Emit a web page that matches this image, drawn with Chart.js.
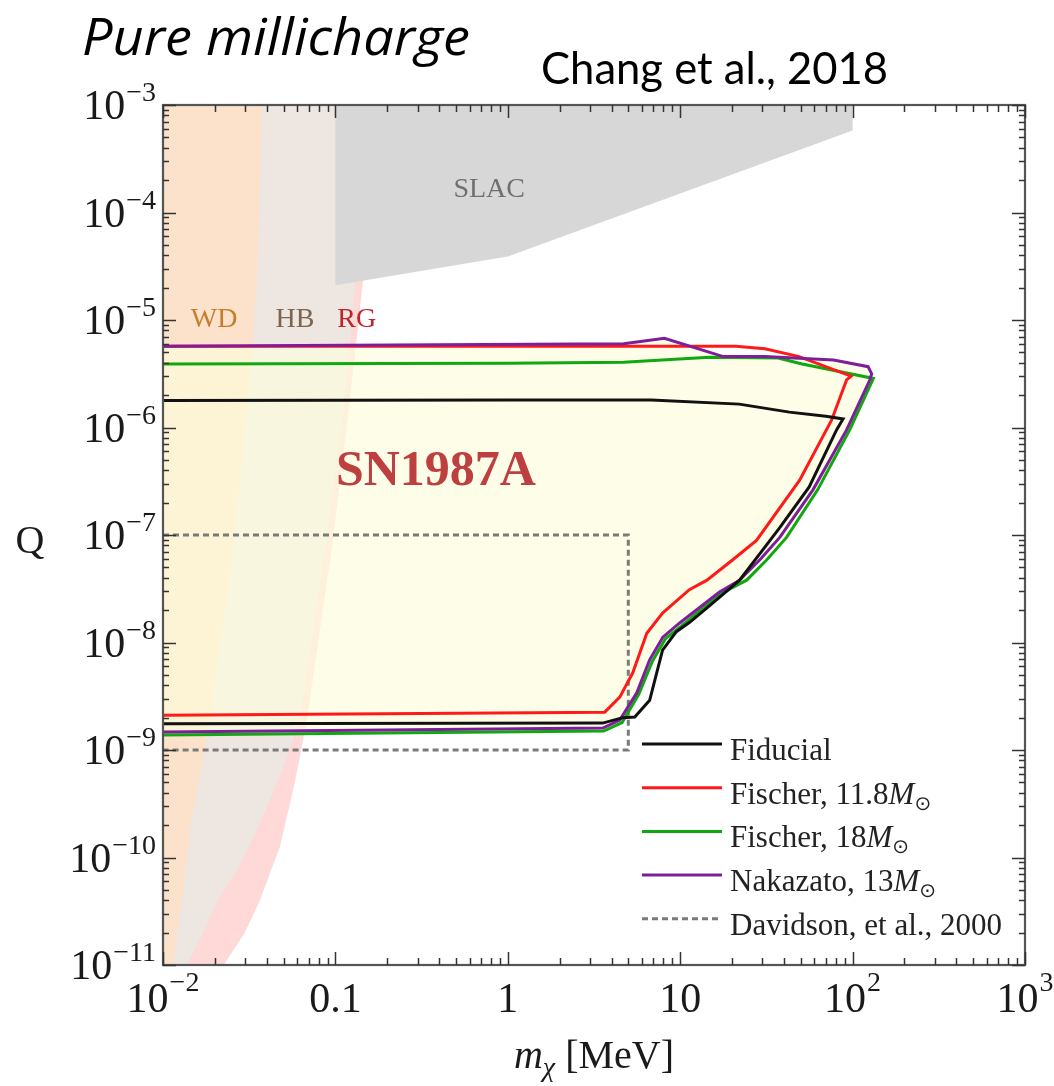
<!DOCTYPE html>
<html>
<head>
<meta charset="utf-8">
<script src="https://cdn.jsdelivr.net/npm/chart.js@4.4.1/dist/chart.umd.min.js"></script>
<style>
html,body{margin:0;padding:0;background:#ffffff;}
#wrap{position:relative;width:1054px;height:1086px;}
</style>
</head>
<body>
<div id="wrap"><canvas id="c" width="1054" height="1086"></canvas></div>
<script>
// ---------- axis ranges and tick labels ----------
const xRange = [0.01, 1000];
const yRange = [1e-11, 1e-3];
const xTickValues = [0.01, 0.1, 1, 10, 100, 1000];
const xTickBase = ['10', '0.1', '1', '10', '10', '10'];
const xTickExp = ['\u22122', '', '', '', '2', '3'];
const yTickValues = [1e-3, 1e-4, 1e-5, 1e-6, 1e-7, 1e-8, 1e-9, 1e-10, 1e-11];
const yTickBase = ['10', '10', '10', '10', '10', '10', '10', '10', '10'];
const yTickExp = ['\u22123', '\u22124', '\u22125', '\u22126', '\u22127', '\u22128', '\u22129', '\u221210', '\u221211'];

// ---------- excluded regions (m_chi [MeV], Q) ----------
const slacRegion = [[0.1, 1e-3], [100, 1e-3], [100, 5.8e-4], [1, 3.9e-5], [0.1, 2.1e-5]];
const wdBoundary = [[0.0375, 1e-3], [0.0351, 1.9e-5], [0.0311, 1.8e-6], [0.0255, 6.3e-8], [0.0187, 1.9e-9], [0.01436, 1.8e-10], [0.01288, 4.0e-11], [0.01143, 1e-11]];
const hbBoundary = [[0.16, 1e-3], [0.1297, 1.9e-5], [0.1135, 1.8e-6], [0.087, 7.2e-8], [0.0622, 1.9e-9], [0.049, 6.3e-10], [0.0351, 1.8e-10], [0.0272, 7.9e-11], [0.0208, 4.0e-11], [0.0171, 2.0e-11], [0.0138, 1e-11]];
const rgBoundary = [[0.19, 1e-3], [0.1426, 1.9e-5], [0.1213, 1.8e-6], [0.095, 7.2e-8], [0.0684, 1.9e-9], [0.0582, 5.0e-10], [0.0476, 1.25e-10], [0.0365, 4.0e-11], [0.0298, 2.0e-11], [0.0225, 1e-11]];

// ---------- SN1987A contours ----------
const fiducial = [[0.01, 1.78e-6], [1, 1.80e-6], [6.8, 1.80e-6], [22, 1.65e-6], [43, 1.39e-6], [70, 1.27e-6], [88, 1.2e-6], [80.7, 9.5e-7], [56, 2.8e-7], [37.8, 1.17e-7], [22.1, 3.8e-8], [16.5, 2.55e-8], [11.4, 1.55e-8], [9.5, 1.26e-8], [7.9, 8.5e-9], [6.65, 2.9e-9], [5.45, 2.03e-9], [4.64, 2.0e-9], [3.55, 1.78e-9], [0.01, 1.75e-9]];
const fischer118 = [[0.01, 5.7e-6], [21, 5.7e-6], [31, 5.4e-6], [49, 4.56e-6], [98, 3.0e-6], [92.3, 2.77e-6], [75.5, 1.17e-6], [49.3, 3.24e-7], [27.7, 8.9e-8], [20.1, 5.85e-8], [14.3, 3.8e-8], [11.3, 3.1e-8], [7.9, 1.88e-8], [6.4, 1.22e-8], [5.3, 5.2e-9], [4.46, 3.1e-9], [3.65, 2.25e-9], [0.01, 2.1e-9]];
const fischer18 = [[0.01, 3.9e-6], [1, 3.95e-6], [4.7, 4.04e-6], [14.8, 4.5e-6], [37, 4.43e-6], [51, 3.9e-6], [132, 2.86e-6], [130.6, 2.75e-6], [96.2, 9.5e-7], [62.7, 2.63e-7], [41.4, 9.5e-8], [31.7, 5.85e-8], [24.3, 3.8e-8], [17.5, 2.9e-8], [10.3, 1.45e-8], [8.2, 1.08e-8], [6.9, 6.7e-9], [5.75, 3.3e-9], [4.6, 1.8e-9], [3.6, 1.5e-9], [0.01, 1.38e-9]];
const nakazato13 = [[0.01, 5.7e-6], [4.7, 6.0e-6], [8.1, 6.76e-6], [17.8, 4.57e-6], [30.9, 4.57e-6], [77.6, 4.25e-6], [123, 3.68e-6], [129, 3.16e-6], [125.6, 2.75e-6], [92.3, 9.5e-7], [58.9, 2.63e-7], [37.8, 9.5e-8], [28.9, 5.85e-8], [22.1, 3.8e-8], [16.9, 2.95e-8], [9.93, 1.52e-8], [7.93, 1.12e-8], [6.65, 6.9e-9], [5.6, 3.4e-9], [4.46, 1.9e-9], [3.56, 1.6e-9], [0.01, 1.47e-9]];
const davidson2000 = [[0.01, 1e-7], [5, 1e-7], [5, 1e-9], [0.01, 1e-9]];

// legend labels: [plain, italic, subscript]
const legendLabels = [['Fiducial', '', ''], ['Fischer, 11.8', 'M', '\u2299'], ['Fischer, 18', 'M', '\u2299'], ['Nakazato, 13', 'M', '\u2299'], ['Davidson, et al., 2000', '', '']];

// ---------- build datasets ----------
const pts = a => a.map(p => ({x: p[0], y: p[1]}));
const bandPoly = b => pts([[xRange[0], yRange[1]]].concat(b, [[xRange[0], yRange[0]]]));
const snEnvelope = nakazato13.slice(0, 8).concat(fischer18.slice(6));

const fillSet = (label, data, color, order) => ({label, data, showLine: true, fill: 'shape', backgroundColor: color,
  borderColor: 'rgba(0,0,0,0)', borderWidth: 1, pointRadius: 0, order, tension: 0});
const lineSet = (label, data, color, order, dash) => ({label, data: pts(data), showLine: true, fill: false,
  borderColor: color, borderWidth: 3, borderDash: dash || [], pointRadius: 0, order, tension: 0});

const C_BLACK = '#111111', C_RED = '#ff1a1a', C_GREEN = '#10a810', C_PURPLE = '#7d1f9a', C_DASH = '#7a7a7a';

const datasets = [
  fillSet('RG', bandPoly(rgBoundary), '#ffd8d8', 20),
  fillSet('HB', bandPoly(hbBoundary), '#eee6e1', 19),
  fillSet('WD', bandPoly(wdBoundary), '#fde2cb', 18),
  fillSet('SLAC', pts(slacRegion), '#d7d7d7', 17),
  fillSet('SN1987A', pts(snEnvelope), 'rgba(253,253,220,0.66)', 16),
  lineSet('Davidson, et al., 2000', davidson2000, C_DASH, 6, [6, 4]),
  lineSet('Fischer, 18M', fischer18, C_GREEN, 5),
  lineSet('Fischer, 11.8M', fischer118, C_RED, 4),
  lineSet('Nakazato, 13M', nakazato13, C_PURPLE, 3),
  lineSet('Fiducial', fiducial, C_BLACK, 2)
];
const legendColors = [C_BLACK, C_RED, C_GREEN, C_PURPLE, C_DASH];

const SERIF = '"Liberation Serif", "Times New Roman", serif';

function drawPow(ctx, base, exp, x, yMid, align, expRise) {
  ctx.font = '42px ' + SERIF;
  const wb = ctx.measureText(base).width;
  ctx.font = '28px ' + SERIF;
  const we = exp ? ctx.measureText(exp).width + 1 : 0;
  const left = align === 'right' ? x - wb - we : x - (wb + we) / 2;
  ctx.textAlign = 'left';
  ctx.textBaseline = 'alphabetic';
  ctx.font = '42px ' + SERIF;
  ctx.fillText(base, left, yMid + 14);
  if (exp) {
    ctx.font = '28px ' + SERIF;
    ctx.fillText(exp, left + wb + 1, yMid - expRise);
  }
}

function fitText(ctx, text, x, baseline, font, width, color) {
  ctx.save();
  ctx.font = font;
  ctx.fillStyle = color;
  ctx.textAlign = 'left';
  ctx.textBaseline = 'alphabetic';
  const w = ctx.measureText(text).width;
  ctx.translate(x, baseline);
  ctx.scale(width / w, 1);
  ctx.fillText(text, 0, 0);
  ctx.restore();
}

const decor = {
  id: 'decor',
  afterDatasetsDraw(chart) {
    const {ctx, chartArea: a, scales} = chart;
    const sx = scales.x, sy = scales.y;
    ctx.save();
    // region labels
    ctx.textAlign = 'center';
    ctx.textBaseline = 'middle';
    ctx.font = '28px ' + SERIF;
    ctx.fillStyle = '#707070';
    ctx.fillText('SLAC', sx.getPixelForValue(0.78), sy.getPixelForValue(1.62e-4));
    ctx.fillStyle = '#c77d2d';
    ctx.fillText('WD', sx.getPixelForValue(0.0198), sy.getPixelForValue(1.0e-5));
    ctx.fillStyle = '#7c6550';
    ctx.fillText('HB', sx.getPixelForValue(0.0582), sy.getPixelForValue(1.0e-5));
    ctx.fillStyle = '#c0242c';
    ctx.fillText('RG', sx.getPixelForValue(0.133), sy.getPixelForValue(1.0e-5));
    ctx.font = 'bold 50px ' + SERIF;
    ctx.fillStyle = '#bd3f40';
    ctx.fillText('SN1987A', sx.getPixelForValue(0.383), sy.getPixelForValue(3.86e-7));

    // frame
    ctx.strokeStyle = '#555555';
    ctx.lineWidth = 2.2;
    ctx.strokeRect(a.left, a.top, a.right - a.left, a.bottom - a.top);
    // ticks
    ctx.strokeStyle = '#333333';
    ctx.lineWidth = 1.5;
    const seg = (x1, y1, x2, y2) => { ctx.beginPath(); ctx.moveTo(x1, y1); ctx.lineTo(x2, y2); ctx.stroke(); };
    for (let e = -2; e <= 3; e++) {
      for (let m = 1; m <= 9; m++) {
        const v = m * Math.pow(10, e);
        if (v > xRange[1] * 1.0001) break;
        const p = Math.round(sx.getPixelForValue(v)) + 0.5;
        const L = m === 1 ? 13 : 7;
        seg(p, a.bottom, p, a.bottom - L);
        seg(p, a.top, p, a.top + L);
      }
    }
    for (let e = -11; e <= -3; e++) {
      for (let m = 1; m <= 9; m++) {
        const v = m * Math.pow(10, e);
        if (v > yRange[1] * 1.0001) break;
        const p = Math.round(sy.getPixelForValue(v)) + 0.5;
        const L = m === 1 ? 13 : 6;
        seg(a.left, p, a.left + L, p);
        seg(a.right, p, a.right - L, p);
      }
    }
    // tick labels
    ctx.fillStyle = '#1a1a1a';
    yTickValues.forEach((v, i) => drawPow(ctx, yTickBase[i], yTickExp[i], a.left - 7, sy.getPixelForValue(v), 'right', 4));
    xTickValues.forEach((v, i) => drawPow(ctx, xTickBase[i], xTickExp[i], sx.getPixelForValue(v), 998, 'center', 7));

    // axis titles
    ctx.textAlign = 'center';
    ctx.textBaseline = 'alphabetic';
    ctx.font = '40px ' + SERIF;
    ctx.fillText('Q', 30, 553);
    ctx.textAlign = 'left';
    ctx.font = 'italic 40px ' + SERIF;
    const wm = ctx.measureText('m').width;
    ctx.font = 'italic 28px ' + SERIF;
    const wc = ctx.measureText('\u03c7').width;
    ctx.font = '40px ' + SERIF;
    const wr = ctx.measureText(' [MeV]').width;
    let tx = (a.left + a.right) / 2 - (wm + wc + wr) / 2;
    ctx.font = 'italic 40px ' + SERIF;
    ctx.fillText('m', tx, 1068);
    ctx.font = 'italic 28px ' + SERIF;
    ctx.fillText('\u03c7', tx + wm, 1076);
    ctx.font = '40px ' + SERIF;
    ctx.fillText(' [MeV]', tx + wm + wc, 1068);

    // legend
    const lx0 = a.right - 383, lx1 = a.right - 303, tx0 = a.right - 295;
    legendLabels.forEach((lab, i) => {
      const ly = a.bottom - 221 + i * 43.7;
      ctx.strokeStyle = legendColors[i];
      ctx.lineWidth = 3;
      ctx.setLineDash(i === 4 ? [6, 4] : []);
      seg(lx0, ly, lx1, ly);
      ctx.setLineDash([]);
      ctx.fillStyle = '#222222';
      ctx.textAlign = 'left';
      ctx.textBaseline = 'alphabetic';
      ctx.font = '31px ' + SERIF;
      let cx = tx0;
      ctx.fillText(lab[0], cx, ly + 16);
      cx += ctx.measureText(lab[0]).width;
      if (lab[1]) {
        ctx.font = 'italic 31px ' + SERIF;
        ctx.fillText(lab[1], cx, ly + 16);
        cx += ctx.measureText(lab[1]).width;
        ctx.font = '20px "DejaVu Sans", sans-serif';
        ctx.fillText(lab[2], cx, ly + 22);
      }
    });

    // titles
    fitText(ctx, 'Pure millicharge', 82, 55, 'italic 52px "Open Sans", sans-serif', 388, '#000000');
    fitText(ctx, 'Chang et al., 2018', 541, 84, '44px Lato, "Open Sans", sans-serif', 347, '#000000');
    ctx.restore();
  }
};

new Chart(document.getElementById('c'), {
  type: 'scatter',
  data: {datasets},
  options: {
    responsive: false,
    animation: false,
    devicePixelRatio: 1,
    layout: {padding: {left: 163, top: 105, right: 29, bottom: 121}},
    scales: {
      x: {type: 'logarithmic', min: xRange[0], max: xRange[1], display: false},
      y: {type: 'logarithmic', min: yRange[0], max: yRange[1], display: false}
    },
    plugins: {legend: {display: false}, tooltip: {enabled: false}, title: {display: false}}
  },
  plugins: [decor]
});
</script>
</body>
</html>
